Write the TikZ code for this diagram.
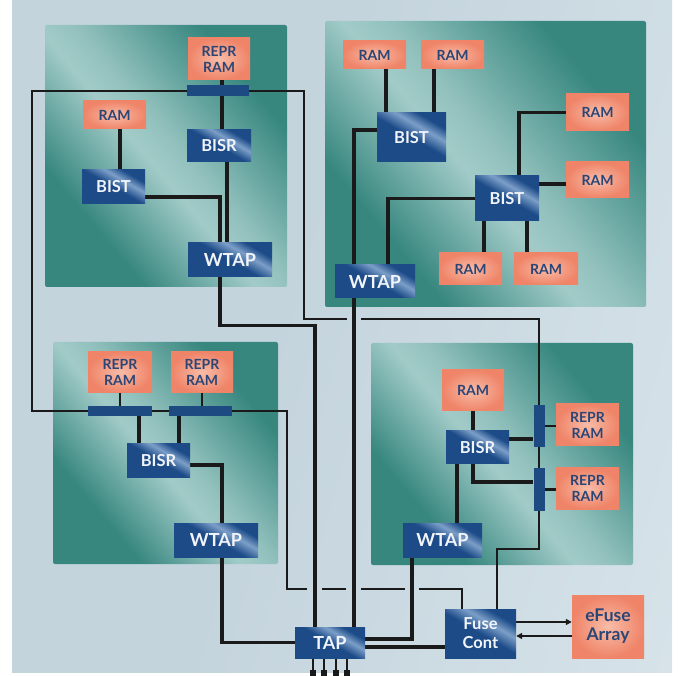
\documentclass[tikz,border=0pt]{standalone}
\usepackage{fontspec}
\newfontfamily\labelfont{Lato}
\usetikzlibrary{arrows.meta}

\definecolor{bgD}{HTML}{C4D4DD}
\definecolor{bgM}{HTML}{D3E0E7}
\definecolor{bgL}{HTML}{E6EDF1}
\definecolor{tealD}{HTML}{37877F}
\definecolor{tealL}{HTML}{A2CBC8}
\definecolor{blueD}{HTML}{1C4B88}
\definecolor{blueL}{HTML}{7C9FC8}
\definecolor{barBlue}{HTML}{1E4A82}
\definecolor{sal}{HTML}{EF8468}
\definecolor{salL}{HTML}{F8BCA8}
\definecolor{salText}{HTML}{2A4676}
\definecolor{blueText}{HTML}{F1F4F9}
\definecolor{wire}{HTML}{1A1A1A}

% shadings for the panel, the blocks and the blue cells
\pgfdeclarehorizontalshading{bgshade}{100bp}{color(0bp)=(bgD); color(45bp)=(bgD); color(75bp)=(bgM); color(100bp)=(bgL)}
\pgfdeclarehorizontalshading{tealband}{100bp}{color(0bp)=(tealD); color(30bp)=(tealD); color(47bp)=(tealL); color(53bp)=(tealL!85!tealD); color(72bp)=(tealD); color(100bp)=(tealD)}
\pgfdeclarehorizontalshading{bluesheen}{100bp}{color(0bp)=(blueD); color(50bp)=(blueD); color(62bp)=(blueL); color(72bp)=(blueD); color(100bp)=(blueD)}

\pgfdeclarelayer{backdrop}
\pgfdeclarelayer{blocks}
\pgfdeclarelayer{wires}
\pgfsetlayers{backdrop,blocks,wires,main}

\tikzset{
  sz/.style 2 args={minimum width=#1pt, minimum height=#2pt},
  cell/.style={rectangle, inner sep=0pt, align=center},
  salbox/.style={cell, inner color=salL, outer color=sal, text=salText,
    font=\labelfont\bfseries\fontsize{14}{16}\selectfont},
  bluebox/.style={cell, shade, shading=bluesheen, shading angle=60, text=blueText,
    font=\labelfont\bfseries\fontsize{16.5}{18}\selectfont},
  bigblue/.style={bluebox, font=\labelfont\bfseries\fontsize{18}{20}\selectfont},
  barbox/.style={rectangle, inner sep=0pt, fill=barBlue},
  block/.style={shade, shading=tealband, shading angle=40, rounded corners=2pt},
  thickwire/.style={draw=wire, line width=3.2pt},
  stubwire/.style={draw=wire, line width=2.5pt},
  thinwire/.style={draw=wire, line width=1.8pt},
  pinwire/.style={draw=wire, line width=2.8pt, -{Square[length=7pt,width=6pt]}},
  flow/.style={draw=wire, line width=2pt, -{Triangle[length=6pt,width=6pt]}}
}

\begin{document}
\begin{tikzpicture}[x=1pt,y=-1pt]
\useasboundingbox (0,0) rectangle (678,676);
\begin{pgfonlayer}{backdrop}
\fill[white] (0,0) rectangle (678,676);
\shade[shading=bgshade, shading angle=-15] (12,0) rectangle (672,672);
\end{pgfonlayer}

% four logic blocks
\begin{pgfonlayer}{blocks}
\shade[block] (45,25) rectangle (287,287);
\shade[block] (325,21) rectangle (646,307);
\shade[block] (53,342) rectangle (278,564);
\shade[block] (371,343) rectangle (633,565);
\end{pgfonlayer}

% top-left block
\node[salbox, sz={62}{42}] (tlrepr) at (219,59) {REPR\\RAM};
\node[barbox, sz={62}{11}] (tlbar) at (218,91) {};
\node[salbox, sz={63}{28}] (tlram) at (114.5,115) {RAM};
\node[bluebox, sz={63}{34}] (tlbist) at (113.5,187) {BIST};
\node[bluebox, sz={64}{32}] (tlbisr) at (219,146) {BISR};
\node[bigblue, sz={84}{34}] (tlwtap) at (230,260) {WTAP};

% top-right block
\node[salbox, sz={63}{28}] (trram1) at (374.5,55) {RAM};
\node[salbox, sz={63}{28}] (trram2) at (452.5,55) {RAM};
\node[bluebox, sz={69}{49}] (trbist1) at (411.5,137.5) {BIST};
\node[bluebox, sz={64}{45}] (trbist2) at (507,198.5) {BIST};
\node[salbox, sz={63}{37}] (trramr1) at (597.5,112.5) {RAM};
\node[salbox, sz={63}{36}] (trramr2) at (597.5,180) {RAM};
\node[salbox, sz={63}{32}] (trramb1) at (470.5,269) {RAM};
\node[salbox, sz={64}{32}] (trramb2) at (546,269) {RAM};
\node[bigblue, sz={80}{33}] (trwtap) at (375,281.5) {WTAP};

% bottom-left block
\node[salbox, sz={64}{41}] (blrepr1) at (120,372.5) {REPR\\RAM};
\node[salbox, sz={62}{41}] (blrepr2) at (202,372.5) {REPR\\RAM};
\node[barbox, sz={64}{10}] (blbar1) at (120,411) {};
\node[barbox, sz={63}{10}] (blbar2) at (200.5,411) {};
\node[bluebox, sz={63}{33}] (blbisr) at (158.5,460.5) {BISR};
\node[bigblue, sz={84}{34}] (blwtap) at (216,540) {WTAP};

% bottom-right block
\node[salbox, sz={62}{41}] (brram) at (473,390.5) {RAM};
\node[bluebox, sz={63}{33}] (brbisr) at (477.5,447.5) {BISR};
\node[barbox, sz={11}{42}] (brbar1) at (539,426) {};
\node[barbox, sz={11}{42}] (brbar2) at (539,489.5) {};
\node[salbox, sz={63}{42}] (brrepr1) at (587.5,425) {REPR\\RAM};
\node[salbox, sz={63}{41}] (brrepr2) at (587.5,488.5) {REPR\\RAM};
\node[bigblue, sz={79}{34}] (brwtap) at (442.5,540) {WTAP};

% chip-level controllers
\node[bigblue, sz={70}{31}] (tap) at (330,642.5) {TAP};
\node[bluebox, sz={71}{49}, font=\labelfont\bfseries\fontsize{16.5}{19}\selectfont] (fuse) at (480.5,633.5) {Fuse\\Cont};
\node[salbox, sz={72}{63}, font=\labelfont\bfseries\fontsize{17.5}{19}\selectfont] (efuse) at (608,626.5) {eFuse\\Array};

% bend and hop points of the repair chain
\coordinate (chainTL) at (304,319);
\coordinate (hop1L) at (347,319);
\coordinate (hop1R) at (361,319);
\coordinate (chainL) at (32,411);
\coordinate (chainBL) at (287,589);
\coordinate (hop2L) at (307,589);
\coordinate (hop2R) at (322,589);
\coordinate (hop3L) at (346,589);
\coordinate (hop3R) at (361,589);
\coordinate (hop4L) at (405,589);
\coordinate (hop4R) at (419,589);

\begin{pgfonlayer}{wires}
% top-left block wiring
\draw[thickwire] ([xshift=3pt]tlrepr.south) -- ([xshift=3pt]tlbisr.north);
\draw[thickwire] ([xshift=8pt]tlbisr.south) -- ([xshift=8pt]tlbisr.south |- tlwtap.north);
\draw[thickwire] ([yshift=-10pt]tlbist.east) -| ([xshift=-10pt]tlwtap.north);
\draw[thickwire] ([xshift=5.5pt]tlram.south) -- ([xshift=5.5pt]tlram.south |- tlbist.north);
\draw[thickwire] ([xshift=-10pt]tlwtap.south) -- ++(0,48) -| ([xshift=-15pt]tap.north);

% top-right block wiring
\draw[thickwire] ([xshift=11.5pt]trram1.south) -- ([xshift=11.5pt]trram1.south |- trbist1.north);
\draw[thickwire] ([xshift=-18.5pt]trram2.south) -- ([xshift=-18.5pt]trram2.south |- trbist1.north);
\draw[thickwire] ([yshift=7.5pt]trbist1.west) -| ([xshift=-21pt]trwtap.north);
\draw[thickwire] (trbist2.west) -| ([xshift=13pt]trwtap.north);
\draw[thickwire] ([xshift=12pt]trbist2.north) |- (trramr1.west);
\draw[thickwire] ([yshift=14.5pt]trbist2.east) -- ([yshift=14.5pt]trbist2.east -| trramr2.west);
\draw[thickwire] ([xshift=-23pt]trbist2.south) -- ([xshift=-23pt]trbist2.south |- trramb1.north);
\draw[thickwire] ([xshift=20pt]trbist2.south) -- ([xshift=20pt]trbist2.south |- trramb2.north);
\draw[thickwire] ([xshift=-21pt]trwtap.south) -- ([xshift=-21pt]trwtap.south |- tap.north);

% bottom-left block wiring
\draw[stubwire] (blrepr1.south) -- (blbar1.north);
\draw[stubwire] (blrepr2.south) -- (blrepr2.south |- blbar2.north);
\draw[thickwire] ([xshift=-19.5pt]blbisr.north) -- ([xshift=-19.5pt]blbisr.north |- blbar1.south);
\draw[thickwire] ([xshift=20.5pt]blbisr.north) -- ([xshift=20.5pt]blbisr.north |- blbar2.south);
\draw[thickwire] ([yshift=-4.5pt]blbisr.east) -| ([xshift=6pt]blwtap.north);
\draw[thickwire] ([xshift=6pt]blwtap.south) |- (tap.west);

% bottom-right block wiring
\draw[thickwire] (brram.south) -- (brram.south |- brbisr.north);
\draw[thickwire] ([yshift=8.5pt]brbisr.east) -- ([yshift=8.5pt]brbisr.east -| brbar1.west);
\draw[thickwire] ([xshift=-4.5pt]brbisr.south) |- ([yshift=7.5pt]brbar2.west);
\draw[thickwire] ([xshift=-20.5pt]brbisr.south) -- ([xshift=-20.5pt]brbisr.south |- brwtap.north);
\draw[stubwire] (brbar1.east) -- (brbar1.east -| brrepr1.west);
\draw[stubwire] (brbar2.east) -- (brbar2.east -| brrepr2.west);
\draw[thickwire] ([xshift=-30.5pt]brwtap.south) |- ([yshift=3.5pt]tap.east);

% TAP, fuse controller and fuse array
\draw[thickwire] ([yshift=-4.5pt]tap.east) -- ([yshift=-4.5pt]tap.east -| fuse.west);
\draw[flow] ([yshift=11.5pt]fuse.east) -- ([yshift=11.5pt]fuse.east -| efuse.west);
\draw[flow] ([yshift=-9.5pt]efuse.west) -- ([yshift=-9.5pt]efuse.west -| fuse.east);
\foreach \dx in {-17,-6,6,17}
  \draw[pinwire] ([xshift=\dx pt]tap.south) -- ++(0,18.5);

% repair chain through the fuse controller
\draw[thinwire] (tlbar.east) -| (chainTL) -- (hop1L);
\draw[thinwire] (hop1R) -| (brbar1.north);
\draw[thinwire] (brbar1.south) -- (brbar2.north);
\draw[thinwire] ([xshift=16.5pt]fuse.north) -- ++(0,-60) -| (brbar2.south);
\draw[thinwire] (tlbar.west) -| (chainL) -- (blbar1.west);
\draw[thinwire] (blbar1.east) -- (blbar2.west);
\draw[thinwire] (blbar2.east) -| (chainBL) -- (hop2L);
\draw[thinwire] (hop2R) -- (hop3L);
\draw[thinwire] (hop3R) -- (hop4L);
\draw[thinwire] (hop4R) -| ([xshift=-18.5pt]fuse.north);
\end{pgfonlayer}
\end{tikzpicture}
\end{document}
